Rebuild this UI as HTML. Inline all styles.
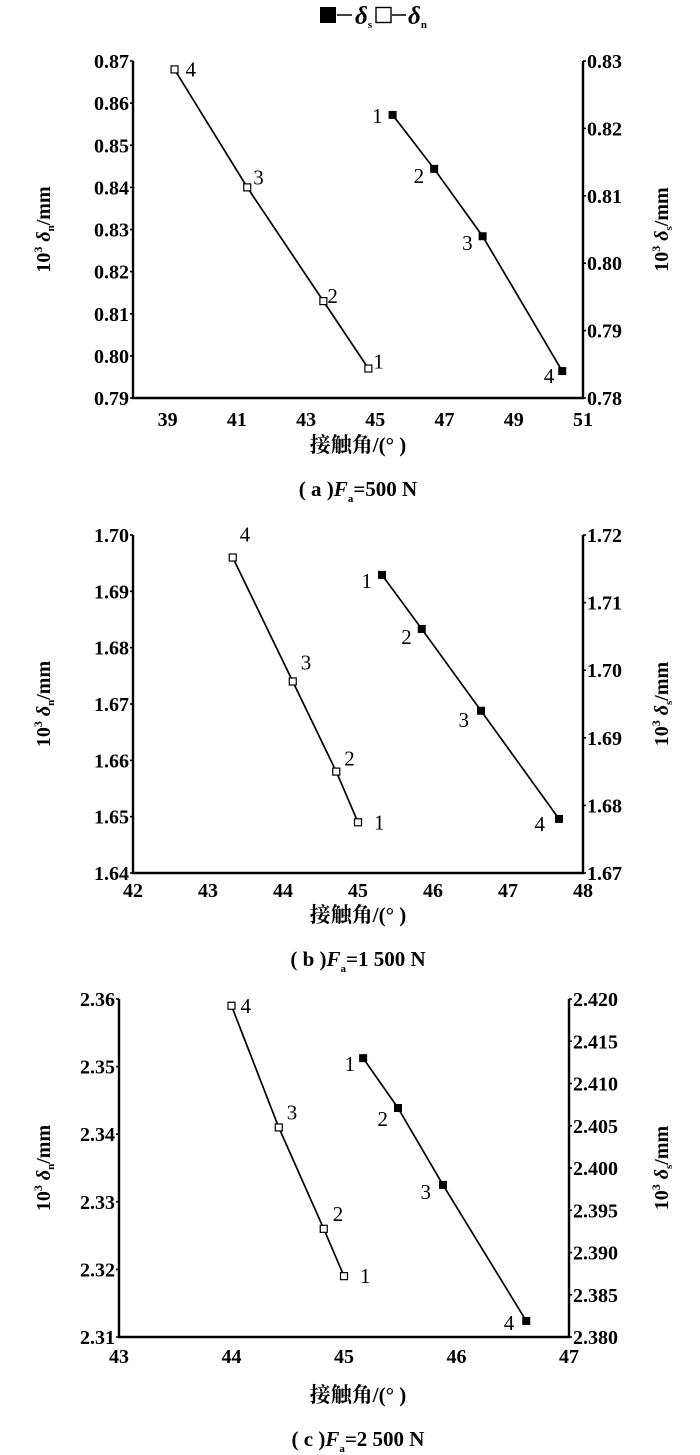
<!DOCTYPE html>
<html><head><meta charset="utf-8"><style>
body{margin:0;background:#fff;}
svg{display:block;font-family:"Liberation Serif","Noto Serif CJK SC",serif;}
.t{font-size:20px;font-weight:bold;}
.pl{font-size:21px;}
</style></head><body>
<svg id="chart" width="700" height="1455" viewBox="0 0 700 1455" xmlns="http://www.w3.org/2000/svg">
<g>
<rect x="320" y="7" width="16" height="16" fill="#000"/>
<line x1="337" y1="15" x2="352" y2="15" stroke="#000" stroke-width="1.5"/>
<text x="355" y="24" font-size="25" font-style="italic" font-weight="bold">δ<tspan font-size="11" dy="4" font-style="normal">s</tspan></text>
<rect x="376" y="7.5" width="15" height="15" fill="#fff" stroke="#000" stroke-width="1.4"/>
<line x1="392" y1="15" x2="406" y2="15" stroke="#000" stroke-width="1.5"/>
<text x="408" y="24" font-size="25" font-style="italic" font-weight="bold">δ<tspan font-size="11" dy="4" font-style="normal">n</tspan></text>
</g>
</svg>
<script>
// Panel A data
const aXTicks = [39,41,43,45,47,49,51];
const aLTicks = [0.79,0.80,0.81,0.82,0.83,0.84,0.85,0.86,0.87];
const aRTicks = [0.78,0.79,0.80,0.81,0.82,0.83];
const aNx = [44.8,43.5,41.3,39.2];
const aNy = [0.797,0.813,0.840,0.868];
const aSx = [45.5,46.7,48.1,50.4];
const aSy = [0.822,0.814,0.804,0.784];
// Panel B data
const bXTicks = [42,43,44,45,46,47,48];
const bLTicks = [1.64,1.65,1.66,1.67,1.68,1.69,1.70];
const bRTicks = [1.67,1.68,1.69,1.70,1.71,1.72];
const bNx = [45.0,44.71,44.13,43.33];
const bNy = [1.649,1.658,1.674,1.696];
const bSx = [45.32,45.85,46.64,47.68];
const bSy = [1.7141,1.7061,1.694,1.678];
// Panel C data
const cXTicks = [43,44,45,46,47];
const cLTicks = [2.31,2.32,2.33,2.34,2.35,2.36];
const cRTicks = [2.380,2.385,2.390,2.395,2.400,2.405,2.410,2.415,2.420];
const cNx = [45.0,44.82,44.42,44.0];
const cNy = [2.319,2.326,2.341,2.359];
const cSx = [45.17,45.48,45.88,46.62];
const cSy = [2.413,2.4071,2.398,2.3819];
const pointLabels = ['1','2','3','4'];

const svg = document.getElementById('chart');
const NS = 'http://www.w3.org/2000/svg';
function mk(tag, attrs, parent){
  const e = document.createElementNS(NS, tag);
  for (const k in attrs) e.setAttribute(k, attrs[k]);
  parent.appendChild(e);
  return e;
}
function panel(cfg){
  const g = mk('g', {}, svg);
  
  
  const {L,R,T,B} = cfg;
  const xs = v => L + (v - cfg.xMin) / (cfg.xMax - cfg.xMin) * (R - L);
  const yl = v => B - (v - cfg.lMin) / (cfg.lMax - cfg.lMin) * (B - T);
  const yr = v => B - (v - cfg.rMin) / (cfg.rMax - cfg.rMin) * (B - T);
  const ax = mk('path', {d:`M${L},${T} V${B} H${R} V${T}`, fill:'none', stroke:'#000', 'stroke-width':2.4}, g);
  
  
  cfg.xt.forEach(v => {
    const t = mk('text', {x:xs(v), y:B+cfg.xtOff, 'text-anchor':'middle', class:'t'}, g);
    t.textContent = v;
    
    
  });
  cfg.lt.forEach(v => {
    const y = yl(v);
    mk('line', {x1:L-3, x2:L, y1:y, y2:y, stroke:'#000', 'stroke-width':1.6}, g);
    const t = mk('text', {x:L-4, y:y+7, 'text-anchor':'end', class:'t'}, g);
    t.textContent = v.toFixed(2);
    
    
  });
  cfg.rt.forEach(v => {
    const y = yr(v);
    mk('line', {x1:R, x2:R+3, y1:y, y2:y, stroke:'#000', 'stroke-width':1.6}, g);
    const t = mk('text', {x:R+4, y:y+7, 'text-anchor':'start', class:'t'}, g);
    t.textContent = v.toFixed(cfg.rDec);
    
    
  });
  const np = cfg.nx.map((x,i) => [xs(x), yl(cfg.ny[i])]);
  const nl = mk('polyline', {points:np.map(p=>p.join(',')).join(' '), fill:'none', stroke:'#000', 'stroke-width':1.7}, g);
  
  
  np.forEach((p,i) => {
    const r = mk('rect', {x:p[0]-3.5, y:p[1]-3.5, width:7, height:7, fill:'#fff', stroke:'#000', 'stroke-width':1.2}, g);
    
    
    const t = mk('text', {x:p[0]+cfg.nOff[i][0], y:p[1]+cfg.nOff[i][1], class:'pl'}, g);
    t.textContent = pointLabels[i];
    
    
  });
  const sp = cfg.sx.map((x,i) => [xs(x), yr(cfg.sy[i])]);
  const sl = mk('polyline', {points:sp.map(p=>p.join(',')).join(' '), fill:'none', stroke:'#000', 'stroke-width':1.7}, g);
  
  
  sp.forEach((p,i) => {
    const r = mk('rect', {x:p[0]-4, y:p[1]-4, width:8, height:8, fill:'#000'}, g);
    
    
    const t = mk('text', {x:p[0]+cfg.sOff[i][0], y:p[1]+cfg.sOff[i][1], class:'pl', 'text-anchor':'end'}, g);
    t.textContent = pointLabels[i];
    
    
  });
  const cy = (T+B)/2;
  const ly = mk('text', {x:0, y:0, transform:`translate(50,${cy}) rotate(-90)`, 'text-anchor':'middle', class:'t', 'font-size':'21'}, g);
  ly.innerHTML = '10<tspan font-size="12" dy="-8">3</tspan><tspan dy="8"> </tspan><tspan font-style="italic">δ</tspan><tspan font-size="11" dy="4">n</tspan><tspan dy="-4">/mm</tspan>';
  
  
  const ry = mk('text', {x:0, y:0, transform:`translate(${cfg.ryx},${cy}) rotate(-90)`, 'text-anchor':'middle', class:'t', 'font-size':'21'}, g);
  ry.innerHTML = '10<tspan font-size="12" dy="-8">3</tspan><tspan dy="8"> </tspan><tspan font-style="italic">δ</tspan><tspan font-size="11" dy="4">s</tspan><tspan dy="-4">/mm</tspan>';
  
  
  const xt = mk('text', {x:cfg.cx, y:cfg.xtY, 'text-anchor':'middle', 'font-size':'21', 'font-weight':'bold'}, g);
  xt.textContent = '接触角/(° )';
  
  
  const cap = mk('text', {x:cfg.cx, y:cfg.capY, 'text-anchor':'middle', 'font-size':'21', 'font-weight':'bold'}, g);
  cap.innerHTML = '( ' + cfg.id + ' )<tspan font-style="italic">F</tspan><tspan font-size="11" dy="6">a</tspan><tspan dy="-6">=' + cfg.force + ' N</tspan>';
  
  
}
panel({id:'a', L:133, R:583, T:61, B:398, xMin:38, xMax:51, lMin:0.79, lMax:0.87, rMin:0.78, rMax:0.83, rDec:2,
  xt:aXTicks, lt:aLTicks, rt:aRTicks, nx:aNx, ny:aNy, sx:aSx, sy:aSy, xtOff:28,
  nOff:[[5,0],[4,2],[6,-3],[11,7]], sOff:[[-10,8],[-10,14],[-10,14],[-8,12]],
  ryx:668, cx:358, xtY:452, capY:496, force:'500'});
panel({id:'b', L:133, R:583, T:535, B:873, xMin:42, xMax:48, lMin:1.64, lMax:1.70, rMin:1.67, rMax:1.72, rDec:2,
  xt:bXTicks, lt:bLTicks, rt:bRTicks, nx:bNx, ny:bNy, sx:bSx, sy:bSy, xtOff:24,
  nOff:[[16,7],[8,-6],[8,-12],[7,-16]], sOff:[[-10,13],[-10,15],[-12,16],[-14,12]],
  ryx:668, cx:358, xtY:922, capY:966, force:'1 500'});
panel({id:'c', L:119, R:569, T:999, B:1337, xMin:43, xMax:47, lMin:2.31, lMax:2.36, rMin:2.38, rMax:2.42, rDec:3,
  xt:cXTicks, lt:cLTicks, rt:cRTicks, nx:cNx, ny:cNy, sx:cSx, sy:cSy, xtOff:26,
  nOff:[[16,7],[9,-8],[8,-8],[9,7]], sOff:[[-8,13],[-10,18],[-12,14],[-12,9]],
  ryx:668, cx:358, xtY:1402, capY:1446, force:'2 500'});
</script>
</body></html>
